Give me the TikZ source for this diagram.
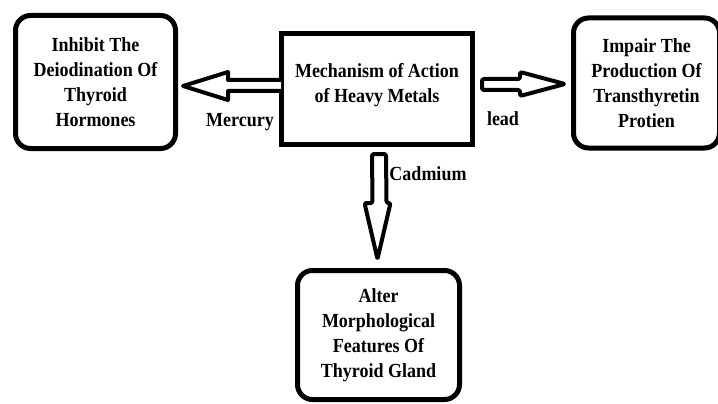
\documentclass[tikz,border=0pt]{standalone}
\usepackage{fontspec}
\setmainfont{Liberation Serif}[FakeStretch=0.9]
\usetikzlibrary{calc, positioning}

\begin{document}
\begin{tikzpicture}[x=1pt, y=-1pt,
    box/.style={draw, line width=5pt, align=center, inner sep=2pt,
        font=\bfseries\fontsize{20}{25}\selectfont},
    effect/.style={box, rounded corners=15pt},
    hollow/.style={draw, line width=4pt, line join=round, fill=white},
    metal/.style={font=\bfseries\fontsize{20}{22}\selectfont, inner sep=0pt}]
\useasboundingbox (0,0) rectangle (718,404);

% boxes
\node[box, minimum width=191pt, minimum height=111pt] (mech) at (377,89)
    {Mechanism of Action\\of Heavy Metals\\[-12pt]};
\node[effect, minimum width=160pt, minimum height=133pt] (inhibit) at (95.5,82)
    {Inhibit The\\Deiodination Of\\Thyroid\\Hormones};
\node[effect, minimum width=146pt, minimum height=130pt] (impair) at (646.5,83)
    {Impair The\\Production Of\\Transthyretin\\Protien};
\node[effect, minimum width=162pt, minimum height=129pt] (alter) at (378.5,335)
    {Alter\\Morphological\\Features Of\\Thyroid Gland};

% arrow tips
\coordinate (mtip) at ($(inhibit.east)+(5,4)$);
\coordinate (ltip) at ($(impair.west)+(-6,1)$);
\coordinate (ctip) at ($(alter.north)+(-1,-9)$);

% mercury
\draw[hollow] ($(mech.west)+(2,-9)$) -- ($(mtip)+(45,-6)$) -- ($(mtip)+(45,-14)$)
    -- (mtip) -- ($(mtip)+(45,14)$) -- ($(mtip)+(45,5)$) -- ($(mech.west)+(2,2)$);
% lead
\draw[hollow, rounded corners=2pt] ($(mech.east)+(7,-10)$) -- ($(ltip)+(-45,-5)$)
    -- ($(ltip)+(-45,-12)$) -- (ltip) -- ($(ltip)+(-45,12)$) -- ($(ltip)+(-45,6)$)
    -- ($(mech.east)+(7,1)$) -- cycle;
% cadmium
\draw[hollow, rounded corners=2pt] ($(mech.south)+(-5,7)$) -- ($(ctip)+(-5,-56)$)
    -- ($(ctip)+(-13,-56)$) -- (ctip) -- ($(ctip)+(13,-56)$) -- ($(ctip)+(9,-56)$)
    -- ($(mech.south)+(9,7)$) -- cycle;

% labels
\node[metal] (hg) at (240,122) {Mercury};
\node[metal] (pb) at (503,119) {lead};
\node[metal] (cd) at (428,174) {Cadmium};
\end{tikzpicture}
\end{document}
